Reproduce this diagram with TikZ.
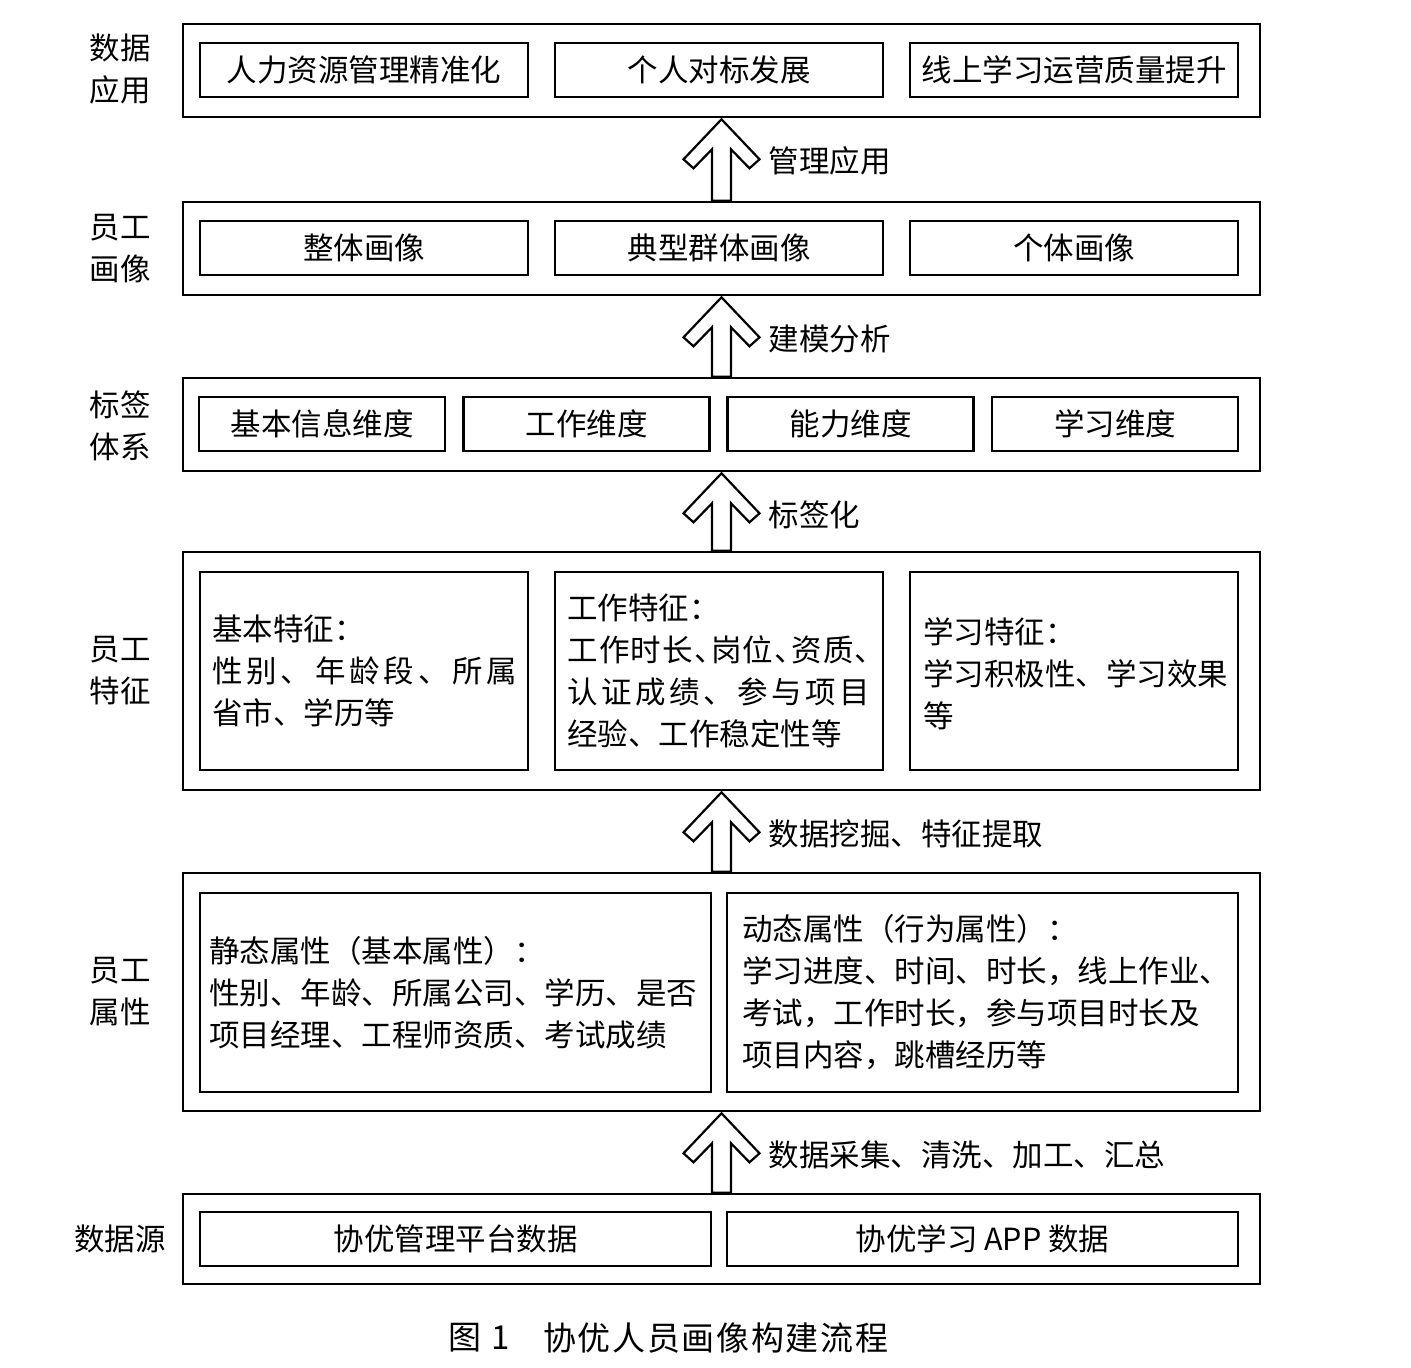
\documentclass[tikz,border=0pt]{standalone}
\usepackage{fontspec}
\setmainfont{Noto Sans CJK SC}
\newfontfamily\haltfont[RawFeature=+halt]{Noto Sans CJK SC}
\usetikzlibrary{calc}
\def\sprd#1{\sprdA#1\relax}
\def\sprdA#1#2{#1\ifx\relax#2\else\hfil\expandafter\sprdA\expandafter#2\fi}
\def\hdun{{\haltfont 、}}
\newcommand\upbigarrow[2]{% #1 lower box, #2 upper box
  \draw[bigarrow] ($(#2.south)+(0,-1pt)$) -- ++(38pt,-40pt) -- ++(-10pt,-9pt)
    -- ++(-18.5pt,19pt) -- ($(#2.south |- #1.north)+(9.5pt,0)$)
    -- ($(#2.south |- #1.north)+(-9.5pt,0)$) -- ($(#2.south)+(-9.5pt,-31pt)$)
    -- ++(-18.5pt,-19pt) -- ++(-10pt,9pt) -- cycle;}
\begin{document}
\begin{tikzpicture}[x=1pt,y=-1pt,
  every node/.style={font=\fontsize{30.5}{42}\selectfont, inner sep=0pt, text=black},
  outerbox/.style={draw, line width=2.6pt, rectangle, minimum width=1077pt},
  innerbox/.style={draw, line width=2.6pt, rectangle},
  wide/.style={minimum width=328pt},
  quarter/.style={minimum width=246pt},
  half/.style={minimum width=511pt},
  sidelabel/.style={align=center},
  arrowlabel/.style={anchor=west},
  bigarrow/.style={draw, line width=2.2pt, line join=miter},
  bodytext/.style={align=left, anchor=west},
  captext/.style={anchor=west, font=\fontsize{33}{40}\selectfont}]
\useasboundingbox (0,0) rectangle (1411,1368);
\fill[white] (0,0) rectangle (1411,1368);

% outer boxes
\node[outerbox, minimum height=93pt] (o1) at (721.5,70.5) {};
\node[outerbox, minimum height=93pt] (o2) at (721.5,248.5) {};
\node[outerbox, minimum height=93pt] (o3) at (721.5,424.5) {};
\node[outerbox, minimum height=238pt] (o4) at (721.5,671) {};
\node[outerbox, minimum height=238pt] (o5) at (721.5,992) {};
\node[outerbox, minimum height=90pt] (o6) at (721.5,1239) {};

% side labels
\node[sidelabel] (s1) at (120,69) {数据\\应用};
\node[sidelabel] (s2) at (120,249) {员工\\画像};
\node[sidelabel] (s3) at (120,426) {标签\\体系};
\node[sidelabel] (s4) at (120,671) {员工\\特征};
\node[sidelabel] (s5) at (120,992) {员工\\属性};
\node (s6) at (120,1239) {数据源};

% row 1
\node[innerbox, wide, minimum height=54pt] (r1a) at (364,70) {人力资源管理精准化};
\node[innerbox, wide, minimum height=54pt] (r1b) at (719,70) {个人对标发展};
\node[innerbox, wide, minimum height=54pt] (r1c) at (1074,70) {线上学习运营质量提升};

% row 2
\node[innerbox, wide, minimum height=54pt] (r2a) at (364,248) {整体画像};
\node[innerbox, wide, minimum height=54pt] (r2b) at (719,248) {典型群体画像};
\node[innerbox, wide, minimum height=54pt] (r2c) at (1074,248) {个体画像};

% row 3
\node[innerbox, quarter, minimum height=54pt] (r3a) at (322,424) {基本信息维度};
\node[innerbox, quarter, minimum height=54pt] (r3b) at (586.5,424) {工作维度};
\node[innerbox, quarter, minimum height=54pt] (r3c) at (850.5,424) {能力维度};
\node[innerbox, quarter, minimum height=54pt] (r3d) at (1115,424) {学习维度};

% row 4
\node[innerbox, wide, minimum height=198pt] (r4a) at (364,671) {};
\node[innerbox, wide, minimum height=198pt] (r4b) at (719,671) {};
\node[innerbox, wide, minimum height=198pt] (r4c) at (1074,671) {};
\node[bodytext] (f1) at (212,671) {基本特征：\\\hbox to 305pt{\sprd{性别、年龄段、所属}}\\省市、学历等};
\node[bodytext] (f2) at (567,671) {工作特征：\\\hbox to 303pt{\sprd{工作时长\hdun 岗位\hdun 资质\hdun}}\\\hbox to 303pt{\sprd{认证成绩、参与项目}}\\经验、工作稳定性等};
\node[bodytext] (f3) at (923,674) {学习特征：\\学习积极性、学习效果\\等};

% row 5
\node[innerbox, half, minimum height=199pt] (r5a) at (455.5,992.5) {};
\node[innerbox, half, minimum height=199pt] (r5b) at (982.5,992.5) {};
\node[bodytext] (a1) at (209,993) {静态属性（基本属性）：\\性别、年龄、所属公司、学历、是否\\项目经理、工程师资质、考试成绩};
\node[bodytext] (a2) at (742,992) {动态属性（行为属性）：\\学习进度、时间、时长，线上作业、\\考试，工作时长，参与项目时长及\\项目内容，跳槽经历等};

% row 6
\node[innerbox, half, minimum height=54pt] (r6a) at (455.5,1239) {协优管理平台数据};
\node[innerbox, half, minimum height=54pt] (r6b) at (982.5,1239) {协优学习 APP 数据};

% arrows
\upbigarrow{o2}{o1}
\upbigarrow{o3}{o2}
\upbigarrow{o4}{o3}
\upbigarrow{o5}{o4}
\upbigarrow{o6}{o5}

% arrow labels
\node[arrowlabel] (t1) at ($(o1.south)+(47pt,-43pt)$) {管理应用};
\node[arrowlabel] (t2) at ($(o2.south)+(47pt,-43pt)$) {建模分析};
\node[arrowlabel] (t3) at ($(o3.south)+(47pt,-43pt)$) {标签化};
\node[arrowlabel] (t4) at ($(o4.south)+(47pt,-43pt)$) {数据挖掘、特征提取};
\node[arrowlabel] (t5) at ($(o5.south)+(47pt,-43pt)$) {数据采集、清洗、加工、汇总};

% caption
\node[captext] (cap1) at (448,1338) {图\hspace{10pt}1};
\node[captext] (cap2) at (543,1338) {\hbox to 345pt{\sprd{协优人员画像构建流程}}};
\end{tikzpicture}
\end{document}
